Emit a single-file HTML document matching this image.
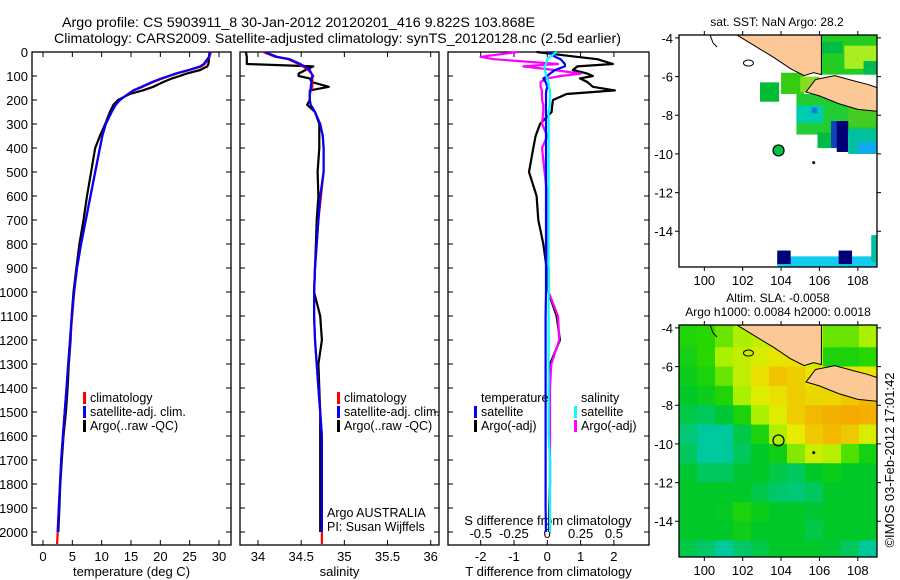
<!DOCTYPE html>
<html><head><meta charset="utf-8"><style>
html,body{margin:0;padding:0;background:#fff;}
svg{display:block;font-family:"Liberation Sans",sans-serif;}
</style></head><body>
<svg id="c" width="900" height="580" viewBox="0 0 900 580" xmlns="http://www.w3.org/2000/svg">
<text x="62" y="27" font-size="14" textLength="473" lengthAdjust="spacingAndGlyphs">Argo profile: CS 5903911_8 30-Jan-2012 20120201_416 9.822S 103.868E</text>
<text x="54" y="43" font-size="14" textLength="567" lengthAdjust="spacingAndGlyphs">Climatology: CARS2009. Satellite-adjusted climatology: synTS_20120128.nc (2.5d earlier)</text>
<text x="777" y="26" font-size="12" text-anchor="middle">sat. SST: NaN Argo: 28.2</text>
<text x="778" y="302" font-size="12" text-anchor="middle">Altim. SLA: -0.0058</text>
<text x="778" y="316" font-size="12" text-anchor="middle">Argo h1000: 0.0084 h2000: 0.0018</text>
<text transform="translate(894,460) rotate(-90)" font-size="13" text-anchor="middle">©IMOS 03-Feb-2012 17:01:42</text>
</svg>
<script>
const depth=[0,20,30,50,60,75,90,100,110,125,145,160,175,200,220,250,300,350,400,500,600,700,800,900,1000,1100,1200,1300,1400,1500,1600,1700,1800,1900,2000,2050];
const tempArgo=[28.4,28.3,28.3,28.2,28.0,26.8,24.5,23.3,22.0,20.5,18.8,17.0,14.8,12.8,12.0,11.4,10.6,9.7,8.9,8.2,7.5,6.9,6.2,5.7,5.2,4.9,4.7,4.4,4.2,3.9,3.5,3.2,2.95,2.8,2.6,2.6];
const tempClim=[28.6,28.4,28.1,27.6,27.0,25.0,22.8,21.6,20.4,18.8,17.0,15.5,14.5,13.1,12.4,11.7,10.7,10.1,9.7,8.9,8.1,7.3,6.5,5.8,5.3,5.0,4.6,4.3,4.0,3.7,3.4,3.1,2.9,2.7,2.5,2.4];
const tempSat=[28.5,28.3,28.0,27.4,26.8,24.8,22.6,21.4,20.2,18.6,16.8,15.4,14.5,13.1,12.4,11.7,10.7,10.1,9.7,8.9,8.1,7.3,6.5,5.8,5.3,4.9,4.6,4.3,4.0,3.7,3.4,3.1,2.9,2.7,2.5,2.5];
const salArgo=[33.86,33.87,33.87,33.87,34.64,34.55,34.47,34.47,34.6,34.62,34.82,34.6,34.6,34.6,34.57,34.66,34.71,34.71,34.71,34.69,34.7,34.68,34.67,34.66,34.65,34.72,34.74,34.70,34.71,34.72,34.72,34.72,34.72,34.72,34.72,34.72];
const salClim=[34.06,34.2,34.35,34.47,34.52,34.58,34.62,34.64,34.63,34.63,34.63,34.61,34.6,34.6,34.61,34.66,34.72,34.75,34.76,34.76,34.73,34.7,34.68,34.66,34.65,34.65,34.66,34.68,34.7,34.72,34.74,34.74,34.74,34.74,34.74,34.74];
const salSat=[34.08,34.22,34.37,34.49,34.54,34.6,34.62,34.63,34.62,34.62,34.61,34.61,34.6,34.6,34.61,34.66,34.72,34.75,34.76,34.76,34.72,34.7,34.68,34.66,34.65,34.65,34.66,34.68,34.7,34.72,34.74,34.74,34.74,34.74,34.74,34.74];
const dTArgo=[-0.32,0.88,1.5,1.97,0.9,0.77,1.2,1.37,0.98,1.2,1.37,2.03,0.58,0.17,0.15,0.13,-0.22,-0.35,-0.42,-0.55,-0.32,-0.27,-0.12,-0.02,0.03,0.28,0.38,0.08,0.06,0.05,0.05,0.08,0.08,0.06,0.05,0.05];
const dSArgo=[-0.22,-0.5,-0.4,0.08,-0.18,0.05,0.25,0.1,0.0,-0.05,-0.05,-0.04,-0.04,-0.04,-0.03,-0.03,-0.04,0.0,-0.04,-0.02,0.0,0.0,0.0,0.01,0.01,0.08,0.09,0.03,0.02,0.02,0.02,0.02,0.02,0.02,0.02,0.02];
const dTSat=[0.03,0.23,0.4,0.53,0.53,0.23,0.08,0.0,-0.12,-0.05,0.0,-0.03,-0.04,-0.04,-0.04,-0.04,-0.04,-0.04,-0.04,-0.04,-0.04,-0.04,-0.04,-0.04,-0.04,-0.05,-0.05,-0.05,-0.05,-0.05,-0.05,-0.05,-0.05,-0.05,-0.04,-0.04];
const dSSat=[0.07,0.02,0.0,-0.01,-0.02,-0.02,-0.01,-0.01,0.0,0.01,0.01,0.02,0.02,0.02,0.02,0.01,0.01,0.01,0.01,0.01,0.01,0.01,0.01,0.01,0.01,0.01,0.01,0.01,0.01,0.01,0.01,0.02,0.02,0.02,0.02,0.02];
const depthTicks=[0,100,200,300,400,500,600,700,800,900,1000,1100,1200,1300,1400,1500,1600,1700,1800,1900,2000];
const tempTicks=[0,5,10,15,20,25,30];
const salTicks=[34,34.5,35,35.5,36];
const dTTicks=[-2,-1,0,1,2];
const dSTicks=[-0.5,-0.25,0,0.25,0.5];
const dSTickLabels=["-0.5","-0.25","0","0.25","0.5"];
const slaGrid=[
[.42,.45,.5,.55,.6,.6,.6,.6,.5,.5,.55],
[.38,.45,.55,.6,.65,.7,.72,.6,.4,.4,.45],
[.35,.4,.5,.6,.72,.82,.78,.7,.7,.7,.7],
[.3,.35,.42,.55,.66,.72,.78,.75,.75,.8,.85],
[.25,.22,.28,.4,.55,.66,.78,.85,.88,.92,.88],
[.18,.12,.12,.25,.4,.56,.68,.8,.85,.8,.65],
[.22,.12,.12,.22,.3,.36,.52,.62,.58,.48,.38],
[.28,.22,.22,.28,.3,.25,.22,.3,.35,.3,.3],
[.3,.3,.3,.3,.25,.2,.18,.22,.3,.3,.3],
[.3,.3,.32,.4,.35,.3,.3,.28,.3,.3,.3],
[.3,.3,.3,.36,.3,.3,.3,.25,.3,.3,.3],
[.25,.2,.12,.2,.25,.3,.3,.3,.28,.22,.12]];
const sstPatches=[
[106.1,109,-3.85,-5.9,"#22cc22"],[107.3,109,-4.4,-5.6,"#aaee22"],[106.1,107.2,-4.2,-4.8,"#00bb44"],[108.3,109,-5.2,-5.9,"#00bb55"],
[102.9,103.9,-6.3,-7.3,"#00bb33"],[104.0,105.2,-5.8,-6.9,"#33cc11"],[105.0,106.0,-6.0,-6.8,"#88dd22"],
[104.8,109,-6.9,-9.0,"#22cc33"],[104.8,106.2,-7.5,-8.4,"#00ccb0"],[105.6,105.9,-7.6,-7.9,"#1180dd"],[107.5,109,-7.3,-8.6,"#44cc22"],
[105.9,106.6,-8.9,-9.7,"#00bb44"],[106.6,107.3,-8.3,-9.7,"#1144bb"],[106.9,107.5,-8.3,-9.9,"#000077"],[107.5,109,-8.7,-10.0,"#00c0a0"],[108.0,109,-9.4,-10.0,"#11aaee"],
[103.8,109.0,-15.3,-15.85,"#11ccee"],[103.8,104.5,-15.0,-15.7,"#000077"],[107.0,107.7,-15.0,-15.7,"#000077"],[108.7,109,-14.2,-15.6,"#00c0a0"]];
const sumatra=[[101.7,-3.85],[106.1,-3.85],[106.1,-5.9],[105.7,-5.8],[105.2,-5.95],[104.5,-5.6],[103.6,-5.0],[102.6,-4.4]];
const java=[[105.8,-6.15],[106.8,-5.95],[107.7,-6.2],[108.5,-6.4],[109.1,-6.6],[109.1,-7.8],[108,-7.7],[107,-7.4],[106,-7.0],[105.3,-6.8],[105.6,-6.4]];
const argoPos=[103.868,-9.822];

const svg=document.getElementById('c');
const NS='http://www.w3.org/2000/svg';
function mk(tag,attrs){const e=document.createElementNS(NS,tag);for(const k in attrs)e.setAttribute(k,attrs[k]);svg.appendChild(e);return e;}
const Y0=52,Y1=545;
const yD=d=>Y0+d*(Y1-Y0)/2054;
const xT=v=>43+v*(219-43)/30;
const xS=v=>258+(v-34)*(430.7-258)/2;
const xDT=v=>547.3+v*33.3;
const xDS=v=>547.3+v*133.3;

function panel(x0,x1,name,xticks,xf,xlabels,xtitle,showY){
  const r=mk('rect',{x:x0,y:Y0,width:x1-x0,height:Y1-Y0,fill:'none',stroke:'#000','stroke-width':1.3});
  
  
  depthTicks.forEach(d=>{
    const y=yD(d);
    const t=mk('path',{d:`M${x0},${y}h5M${x1},${y}h-5`,stroke:'#000','stroke-width':1});
    
    
    if(showY){
      const l=mk('text',{x:28,y:y+5,'font-size':13,'text-anchor':'end'});
      l.textContent=d;
      
      
    }
  });
  xticks.forEach((v,i)=>{
    const x=xf(v);
    const t=mk('path',{d:`M${x},${Y0}v5M${x},${Y1}v-5`,stroke:'#000','stroke-width':1});
    
    
    const l=mk('text',{x:x,y:561,'font-size':13,'text-anchor':'middle'});
    l.textContent=xlabels[i];
    
    
  });
  const tt=mk('text',{x:(x0+x1)/2,y:576,'font-size':13,'text-anchor':'middle'});
  tt.textContent=xtitle;
  
  
}
function line(vals,xf,color,name,n){
  const N=n||vals.length;
  let d='';
  for(let i=0;i<N;i++){d+=(i?'L':'M')+xf(vals[i]).toFixed(1)+','+yD(depth[i]).toFixed(1);}
  const p=mk('path',{d:d,fill:'none',stroke:color,'stroke-width':2.2,'stroke-linejoin':'round'});
  
  
}
function legend(x,y,color,text,name){
  const m=mk('rect',{x:x,y:y-10,width:3,height:12,fill:color});
  
  
  const t=mk('text',{x:x+7,y:y,'font-size':12.5});
  t.textContent=text;
  
  
}
function txt(x,y,s,name,anchor,fs){
  const t=mk('text',{x:x,y:y,'font-size':fs||12.5,'text-anchor':anchor||'start'});
  t.textContent=s;
  
  
}

panel(32,231,'temperature-panel',tempTicks,xT,tempTicks.map(String),'temperature (deg C)',true);
line(tempArgo,xT,'#000','temp-argo-line',35);
line(tempClim,xT,'#f00','temp-climatology-line');
line(tempSat,xT,'#00f','temp-satellite-line',35);
legend(83,402,'#f00','climatology','legend-climatology');
legend(83,416,'#00f','satellite-adj. clim.','legend-satellite');
legend(83,430,'#000','Argo(..raw -QC)','legend-argo');

panel(240,439,'salinity-panel',salTicks,xS,salTicks.map(String),'salinity',false);
line(salArgo,xS,'#000','sal-argo-line',35);
line(salClim,xS,'#f00','sal-climatology-line');
line(salSat,xS,'#00f','sal-satellite-line',35);
legend(337,402,'#f00','climatology','legend-sal-climatology');
legend(337,416,'#00f','satellite-adj. clim.','legend-sal-satellite');
legend(337,430,'#000','Argo(..raw -QC)','legend-sal-argo');
txt(327,517,'Argo AUSTRALIA','argo-agency-label');
txt(327,531,'PI: Susan Wijffels','pi-label');

panel(448,649,'difference-panel',dTTicks,xDT,dTTicks.map(String),'T difference from climatology',false);
dSTicks.forEach((v,i)=>txt(xDS(v),538,dSTickLabels[i],'s-diff-tick-label','middle',13));
txt(548,525,'S difference from climatology','s-diff-axis-title','middle',13);
line(dTArgo,xDT,'#000','dt-argo-line',35);
line(dSArgo,xDS,'#f0f','ds-argo-line',35);
line(dTSat,xDT,'#00f','dt-satellite-line',35);
line(dSSat,xDS,'#0ff','ds-satellite-line',35);
txt(481,402,'temperature','legend-temperature-heading');
legend(474,416,'#00f','satellite','legend-dt-satellite');
legend(474,430,'#000','Argo(-adj)','legend-dt-argo');
txt(581,402,'salinity','legend-salinity-heading');
legend(574,416,'#0ff','satellite','legend-ds-satellite');
legend(574,430,'#f0f','Argo(-adj)','legend-ds-argo');

const LON0=98.68,LON1=109.0,LAT0=-3.85,LAT1=-15.85,MX0=679,MX1=877;
function mapFns(top,bot){return{x:l=>MX0+(l-LON0)*(MX1-MX0)/(LON1-LON0),y:a=>top+(a-LAT0)*(bot-top)/(LAT1-LAT0)};}
function slaColor(v){
  const stops=[[0.1,[0,200,170]],[0.3,[0,200,40]],[0.45,[40,215,0]],[0.55,[170,240,0]],[0.68,[230,235,0]],[0.9,[245,170,0]]];
  if(v<=stops[0][0])return 'rgb('+stops[0][1]+')';
  for(let i=1;i<stops.length;i++){if(v<=stops[i][0]){const a=stops[i-1],b=stops[i],t=(v-a[0])/(b[0]-a[0]);return 'rgb('+a[1].map((c,j)=>Math.round(c+(b[1][j]-c)*t)).join(',')+')';}}
  return 'rgb('+stops[stops.length-1][1]+')';
}
function drawMap(top,bot,name,isSla){
  const f=mapFns(top,bot);
  const clip=mk('clipPath',{id:name+'-clip'});
  const cr=document.createElementNS(NS,'rect');
  cr.setAttribute('x',MX0);cr.setAttribute('y',top);cr.setAttribute('width',MX1-MX0);cr.setAttribute('height',bot-top);
  clip.appendChild(cr);
  const g=mk('g',{'clip-path':`url(#${name}-clip)`});
  
  
  function add(tag,attrs,nm){const e=document.createElementNS(NS,tag);for(const k in attrs)e.setAttribute(k,attrs[k]);g.appendChild(e);return e;}
  if(isSla){
    const cw=(LON1-LON0)/11;
    slaGrid.forEach((row,r)=>row.forEach((v,c)=>{
      const x=f.x(LON0+c*cw),y=f.y(-4-r)-(r===0?5:0),x2=f.x(LON0+(c+1)*cw),y2=f.y(-5-r);
      add('rect',{x:x,y:y,width:x2-x+0.5,height:y2-y+0.5,fill:slaColor(v)},'sla-cell');
    }));
  } else {
    sstPatches.forEach(p=>{
      add('rect',{x:f.x(p[0]),y:f.y(p[2]),width:f.x(p[1])-f.x(p[0]),height:f.y(p[3])-f.y(p[2]),fill:p[4]},'sst-cell');
    });
  }
  [sumatra,java].forEach((poly,i)=>{
    add('polygon',{points:poly.map(p=>f.x(p[0]).toFixed(1)+','+f.y(p[1]).toFixed(1)).join(' '),fill:'#fcc896',stroke:'#000','stroke-width':1},i?'java-land':'sumatra-land');
  });
  add('ellipse',{cx:f.x(102.3),cy:f.y(-5.3),rx:5,ry:3,fill:'none',stroke:'#000','stroke-width':1},'enggano-island');
  add('path',{d:`M${f.x(100.3)},${top}l3,8l4,4`,fill:'none',stroke:'#000','stroke-width':1},'coast-fragment');
  add('circle',{cx:f.x(105.7),cy:f.y(-10.45),r:1.5,fill:'#000'},'christmas-island');
  add('circle',{cx:f.x(argoPos[0]),cy:f.y(argoPos[1]),r:5.5,fill:isSla?'none':'#00c040',stroke:'#000','stroke-width':1.2},'argo-position-marker');
  const fr=mk('rect',{x:MX0,y:top,width:MX1-MX0,height:bot-top,fill:'none',stroke:'#000','stroke-width':1.3});
  
  
  [-4,-6,-8,-10,-12,-14].forEach(a=>{
    const y=f.y(a);
    const t=mk('path',{d:`M${MX0},${y}h-4M${MX1},${y}h4`,stroke:'#000'});
    
    
    const l=mk('text',{x:673,y:y+5,'font-size':13,'text-anchor':'end'});
    l.textContent=a;
    
    
  });
  [100,102,104,106,108].forEach(o=>{
    const x=f.x(o);
    const t=mk('path',{d:`M${x},${top}v-4M${x},${bot}v4`,stroke:'#000'});
    
    
    const l=mk('text',{x:x,y:bot+18,'font-size':13,'text-anchor':'middle'});
    l.textContent=o;
    
    
  });
}
drawMap(35,267,'sst-map',false);
drawMap(325,557,'sla-map',true);
</script>
</body></html>
